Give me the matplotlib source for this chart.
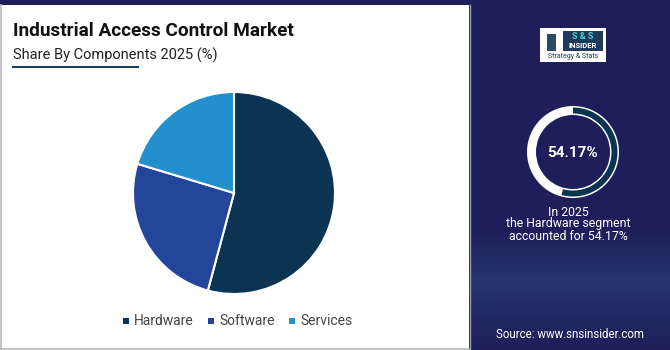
import numpy as np
import matplotlib.pyplot as plt
from matplotlib.patches import Rectangle, Wedge

plt.rcParams['font.family'] = ['Roboto', 'DejaVu Sans']

# data
segments = ["Hardware", "Software", "Services"]
shares = [54.17, 25.50, 20.33]
colors = ["#0b3352", "#23459a", "#2190cc"]
highlight = 54.17

W, H = 670, 350
navy = "#1e1f5a"

fig = plt.figure(figsize=(W / 100, H / 100), dpi=100)
fig.patch.set_facecolor(navy)

# background layer in pixel coordinates (y grows downwards)
bg = fig.add_axes([0, 0, 1, 1])
bg.set_xlim(0, W)
bg.set_ylim(H, 0)
bg.axis("off")

# right panel gradient (lighter towards the lower part)
grad = np.concatenate([np.zeros(230), np.linspace(0, 1, 50), np.linspace(1, 0, 70)])
top = np.array([0x1e, 0x1f, 0x5a]) / 255
low = np.array([0x24, 0x35, 0x6e]) / 255
img = top[None, :] * (1 - grad[:, None]) + low[None, :] * grad[:, None]
bg.imshow(img[:, None, :], extent=[470, W, H, 0], aspect="auto", zorder=0)

# white panel
bg.add_patch(Rectangle((0, 5), 469, 345, facecolor="white", edgecolor="none", zorder=1))
bg.plot([0.6, 0.6], [5, 350], color="#bbbbbb", lw=1.2, zorder=2)
bg.plot([0, 469], [349.4, 349.4], color="#bbbbbb", lw=1.2, zorder=2)
bg.plot([469.5, 469.5], [5, 350], color="#9a9ab0", lw=1, zorder=2)

# titles
bg.text(13, 31, "Industrial Access Control Market", fontsize=13.7, fontweight="bold",
        color="#111111", va="center", ha="left", zorder=3)
bg.text(13, 55, "Share By Components 2025 (%)", fontsize=10.5, color="#222222",
        va="center", ha="left", zorder=3)
bg.plot([13, 138], [67, 67], color="#1f3a5a", lw=1.5, zorder=3)

# legend
lx = [123, 208, 289]
for x, name, c in zip(lx, segments, colors):
    bg.add_patch(Rectangle((x, 317.5), 6, 6, facecolor=c, zorder=3))
    bg.text(x + 11, 321, name, fontsize=10, color="#444444", va="center", ha="left", zorder=3)

# logo
bg.add_patch(Rectangle((540, 28), 66, 34, facecolor="white", edgecolor="none", zorder=3))
bg.add_patch(Rectangle((563, 31), 40, 20, facecolor="#1e3a5a", edgecolor="none", zorder=4))
bg.text(583, 36.5, "S & S", fontsize=6.5, fontweight="bold", color="#4fd0d0",
        ha="center", va="center", zorder=5)
bg.text(583, 46, "INSIDER", fontsize=5.5, fontweight="bold", color="white",
        ha="center", va="center", zorder=5)
bg.add_patch(Rectangle((547, 34), 9, 17, facecolor="#2a4a6a", edgecolor="none", zorder=4))
bg.text(573, 57, "Strategy & Stats", fontsize=5, color="#1e3a5a",
        ha="center", va="center", zorder=5)

# donut indicator: arc from top, clockwise on screen
cx, cy = 573, 152
bg.add_patch(Wedge((cx, cy), 46, 0, 360, width=9, facecolor="white", edgecolor="none", zorder=3))
bg.add_patch(Wedge((cx, cy), 44.5, -90, -90 + 360 * highlight / 100,
                   width=6, facecolor="#0b3352", edgecolor="none", zorder=4))
bg.text(cx - 1, cy + 1, f"{highlight:.2f}%", fontsize=11, fontweight="bold", color="white",
        ha="center", va="center", zorder=5)
for y, line in zip([212, 224, 236], ["In 2025", "the Hardware segment", "accounted for 54.17%"]):
    bg.text(568, y, line, fontsize=8.8, color="white", ha="center", va="center", zorder=5)

bg.text(570, 334, "Source: www.snsinsider.com", fontsize=8.3, color="white",
        ha="center", va="center", zorder=5)

# pie chart
r = 101
pcx, pcy = 234, 193
ax = fig.add_axes([(pcx - r) / W, 1 - (pcy + r) / H, 2 * r / W, 2 * r / H])
ax.pie(shares, colors=colors, startangle=90, counterclock=False,
       wedgeprops=dict(edgecolor="white", linewidth=1.5))
ax.set_aspect("auto")
ax.set_xlim(-1, 1)
ax.set_ylim(-1, 1)
ax.axis("off")

fig.savefig("out.png", dpi=100, facecolor=fig.get_facecolor())
